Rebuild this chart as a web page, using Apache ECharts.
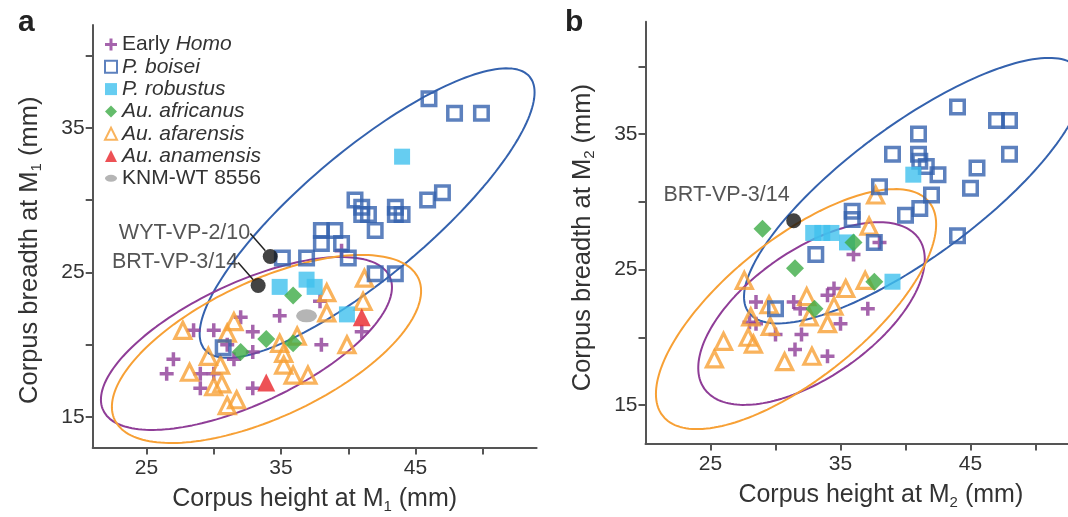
<!DOCTYPE html>
<html>
<head>
<meta charset="utf-8">
<script src="https://cdn.jsdelivr.net/npm/echarts@6/dist/echarts.min.js"></script>
<style>
  html, body { margin: 0; padding: 0; background: #ffffff; }
  #chart { width: 1068px; height: 517px; }
</style>
</head>
<body>
<div id="chart"></div>
<script>
// ---------- Panel a: corpus height vs breadth at M1 (mm), points are [height, breadth] ----------
const earlyHomoA = [[39.5,26.5],[37.9,23.0],[34.9,22.0],[32.0,21.9],[28.5,21.0],[30.0,21.0],[32.9,20.9],[31.0,20.0],[32.9,19.5],[38.0,20.0],[41.0,20.9],[31.5,19.0],[27.0,19.0],[26.5,18.0],[29.0,18.0],[30.0,18.0],[29.0,17.0],[32.9,17.0]];
const boiseiA = [[46.0,37.0],[47.9,36.0],[49.9,36.0],[47.0,30.5],[45.9,30.0],[40.5,30.0],[41.0,29.5],[41.0,29.0],[41.5,29.0],[42.0,27.9],[43.5,29.5],[43.5,29.0],[44.0,29.0],[38.0,27.9],[39.0,27.9],[38.0,27.0],[39.5,27.0],[36.9,26.0],[40.0,26.0],[35.1,26.0],[42.0,24.9],[43.5,24.9],[30.7,19.8]];
const robustusA = [[44.0,33.0],[34.9,24.0],[36.9,24.5],[37.5,24.0],[39.9,22.1]];
const africanusA = [[35.9,23.4],[33.9,20.4],[35.9,20.1],[32.0,19.5]];
const afarensisA = [[41.2,24.6],[38.4,23.6],[41.1,23.0],[38.4,22.2],[27.7,21.0],[31.5,21.6],[31.0,20.8],[34.9,20.1],[36.2,20.6],[39.9,20.0],[29.6,19.2],[30.5,18.6],[35.2,19.4],[35.2,18.6],[28.2,18.1],[35.9,17.9],[37.0,17.9],[30.0,17.1],[30.6,17.3],[31.0,15.8],[31.7,16.2]];
const anamensisA = [[41.0,21.9],[33.9,17.4]];
const knmA = [[36.9,22.0]];
const specimensA = [{ name: 'WYT-VP-2/10', value: [34.2,26.1] }, { name: 'BRT-VP-3/14', value: [33.3,24.1] }];

// ---------- Panel b: corpus height vs breadth at M2 (mm) ----------
const earlyHomoB = [[38.0,27.0],[36.0,26.1],[34.5,23.6],[34.0,23.1],[28.5,22.6],[31.4,22.6],[31.9,22.1],[37.1,22.1],[28.0,21.1],[28.5,21.0],[35.0,21.0],[30.0,20.2],[32.0,20.2],[31.5,19.1],[34.0,18.6]];
const boiseiB = [[44.0,37.0],[47.0,36.0],[48.0,36.0],[48.0,33.5],[41.0,35.0],[39.0,33.5],[41.0,33.5],[41.1,33.0],[41.6,32.6],[42.5,32.0],[45.5,32.5],[45.0,31.0],[42.0,30.5],[41.1,29.5],[40.0,29.0],[38.0,31.1],[44.0,27.5],[35.9,29.3],[35.9,28.7],[37.6,27.0],[33.1,26.1],[30.0,22.1]];
const robustusB = [[40.6,32.0],[32.9,27.7],[33.6,27.7],[34.3,27.7],[35.5,27.0],[39.0,24.1]];
const africanusB = [[29.0,28.0],[31.5,25.1],[36.0,27.0],[37.6,24.1],[33.0,22.1]];
const afarensisB = [[37.7,30.5],[37.2,28.2],[27.6,24.2],[35.4,23.6],[36.9,24.2],[32.4,23.0],[29.5,22.4],[34.5,22.3],[28.1,21.5],[29.6,20.8],[32.6,21.5],[34.0,21.0],[26.0,19.7],[27.9,20.0],[28.3,19.5],[25.3,18.4],[30.7,18.2],[32.8,18.6]];
const specimensB = [{ name: 'BRT-VP-3/14', value: [31.4,28.6] }];

// Group ellipses: centre and two conjugate semi-axis vectors (mm)
const ellipseBoiseiA = { cx: 41.4, cy: 29.1, ax: 12.08, ay: 9.43, bx: 3.01, by: -3.34 };
const ellipseHomoA = { cx: 32.43, cy: 20.09, ax: 10.65, ay: 4.62, bx: 1.90, by: -3.79 };
const ellipseAfarensisA = { cx: 33.92, cy: 19.71, ax: 11.29, ay: 4.89, bx: 2.15, by: -4.28 };
const ellipseBoiseiB = { cx: 40.62, cy: 30.82, ax: 12.69, ay: 8.98, bx: 3.01, by: -3.92 };
const ellipseHomoB = { cx: 32.77, cy: 21.75, ax: 8.25, ay: 5.54, bx: 2.80, by: -3.84 };
const ellipseAfarensisB = { cx: 31.58, cy: 22.08, ax: 10.24, ay: 7.90, bx: 3.36, by: -4.0 };

// Axis ticks and labels
const xTicksA = [25, 30, 35, 40, 45, 50];
const xTicksB = [25, 30, 35, 40, 45, 50, 55];
const xLabels = [25, 35, 45];
const yTicks = [15, 20, 25, 30, 35, 40];
const yLabels = [15, 25, 35];

const FONT = '"Liberation Sans", Arial, Helvetica, sans-serif';
const TEXT = '#333333';
const AXIS = '#555555';
const C = {
  homo: '#8f3d97', boisei: '#3462ae', robustus: '#40c0ee',
  africanus: '#3dab46', afarensis: '#f7a035', anamensis: '#e8262a',
  knm: '#a3a3a3', spec: '#141414'
};
const PLUS = 'path://M4.5,0h3v4.5h4.5v3h-4.5v4.5h-3v-4.5h-4.5v-3h4.5z';

function outline(p) {
  const pts = [];
  const n = 180;
  for (let i = 0; i <= n; i++) {
    const t = (i / n) * Math.PI * 2;
    pts.push([p.cx + p.ax * Math.cos(t) + p.bx * Math.sin(t),
              p.cy + p.ay * Math.cos(t) + p.by * Math.sin(t)]);
  }
  return pts;
}

function ellipseSeries(p, color, idx) {
  return {
    type: 'line', name: 'outline', xAxisIndex: idx, yAxisIndex: idx,
    data: outline(p), showSymbol: false, symbol: 'none', silent: true,
    lineStyle: { color: color, width: 2 }, z: 1, animation: false
  };
}

const subStyle = { fontFamily: FONT, fontSize: 15, color: TEXT, lineHeight: 15, padding: [16, 0, 0, 0], verticalAlign: 'bottom' };

function xAxis(idx, min, max, ticks, sub) {
  return {
    type: 'value', gridIndex: idx, min: min, max: max,
    name: 'Corpus height at M{s|' + sub + '} (mm)', nameLocation: 'middle', nameGap: 36,
    nameTextStyle: { fontFamily: FONT, fontSize: 25, color: TEXT, lineHeight: 30, rich: { s: subStyle } },
    splitLine: { show: false },
    axisLine: { onZero: false, lineStyle: { color: AXIS, width: 2 } },
    axisTick: { customValues: ticks, length: 7, lineStyle: { color: AXIS, width: 2 } },
    axisLabel: { customValues: xLabels, fontFamily: FONT, fontSize: 21, color: TEXT, margin: 10 }
  };
}

function yAxis(idx, min, max, sub, pad) {
  return {
    type: 'value', gridIndex: idx, min: min, max: max,
    name: 'Corpus breadth at M{s|' + sub + '} (mm)', nameLocation: 'middle', nameGap: 48,
    nameTextStyle: { fontFamily: FONT, fontSize: 25.5, color: TEXT, lineHeight: 30, padding: pad, rich: { s: subStyle } },
    splitLine: { show: false },
    axisLine: { onZero: false, lineStyle: { color: AXIS, width: 2 } },
    axisTick: { customValues: yTicks, length: 7, lineStyle: { color: AXIS, width: 2 } },
    axisLabel: { customValues: yLabels, fontFamily: FONT, fontSize: 21, color: TEXT, margin: 8 }
  };
}

function groupSeries(idx, sets) {
  const out = [];
  const add = (name, data, style) => { if (data) out.push(Object.assign({ type: 'scatter', name: name, xAxisIndex: idx, yAxisIndex: idx, data: data, z: 3, animation: false }, style)); };
  add('Early Homo', sets.homo, { symbol: PLUS, symbolSize: 14, itemStyle: { color: C.homo } });
  add('Au. afarensis', sets.afarensis, { symbol: 'triangle', symbolSize: 16, itemStyle: { color: 'rgba(0,0,0,0)', borderColor: C.afarensis, borderWidth: 3.2 } });
  add('P. boisei', sets.boisei, { symbol: 'rect', symbolSize: 13.5, itemStyle: { color: 'rgba(0,0,0,0)', borderColor: C.boisei, borderWidth: 3.5 } });
  add('P. robustus', sets.robustus, { symbol: 'rect', symbolSize: 16, itemStyle: { color: C.robustus } });
  add('Au. africanus', sets.africanus, { symbol: 'diamond', symbolSize: 18, itemStyle: { color: C.africanus } });
  add('Au. anamensis', sets.anamensis, { symbol: 'triangle', symbolSize: 18, itemStyle: { color: C.anamensis } });
  add('KNM-WT 8556', sets.knm, { symbol: 'circle', symbolSize: [21, 13], itemStyle: { color: C.knm } });
  return out;
}

const labelText = { fontFamily: FONT, fontSize: 21.5, color: '#2b2b2b' };

const series = [
  ellipseSeries(ellipseBoiseiA, C.boisei, 0),
  ellipseSeries(ellipseHomoA, C.homo, 0),
  ellipseSeries(ellipseAfarensisA, C.afarensis, 0),
  ellipseSeries(ellipseBoiseiB, C.boisei, 1),
  ellipseSeries(ellipseHomoB, C.homo, 1),
  ellipseSeries(ellipseAfarensisB, C.afarensis, 1),
  ...groupSeries(0, { homo: earlyHomoA, boisei: boiseiA, robustus: robustusA, africanus: africanusA, afarensis: afarensisA, anamensis: anamensisA, knm: knmA }),
  ...groupSeries(1, { homo: earlyHomoB, boisei: boiseiB, robustus: robustusB, africanus: africanusB, afarensis: afarensisB }),
  {
    type: 'scatter', name: 'specimen', xAxisIndex: 0, yAxisIndex: 0, data: specimensA, z: 4, animation: false,
    symbol: 'circle', symbolSize: 15, itemStyle: { color: C.spec },
    label: Object.assign({ show: true, position: 'left', distance: 5, formatter: '{b}' }, labelText),
    labelLayout: { dx: -7.5, dy: -23 },
    labelLine: { show: true, lineStyle: { color: '#222', width: 1.5 } }
  },
  {
    type: 'scatter', name: 'specimen', xAxisIndex: 1, yAxisIndex: 1, data: specimensB, z: 4, animation: false,
    symbol: 'circle', symbolSize: 15, itemStyle: { color: C.spec },
    label: Object.assign({ show: true, position: 'left', distance: 5, offset: [8.5, -26], formatter: '{b}' }, labelText)
  }
];

const legendNames = {
  'Early Homo': 'Early {i|Homo}',
  'P. boisei': '{i|P. boisei}',
  'P. robustus': '{i|P. robustus}',
  'Au. africanus': '{i|Au. africanus}',
  'Au. afarensis': '{i|Au. afarensis}',
  'Au. anamensis': '{i|Au. anamensis}',
  'KNM-WT 8556': 'KNM-WT 8556'
};

const option = {
  backgroundColor: '#ffffff',
  animation: false,
  title: [
    { text: 'a', left: 13, top: 3, textStyle: { fontFamily: FONT, fontSize: 30, fontWeight: 'bold', color: '#222' } },
    { text: 'b', left: 560, top: 3, textStyle: { fontFamily: FONT, fontSize: 30, fontWeight: 'bold', color: '#222' } }
  ],
  grid: [
    { left: 92.7, top: 25, width: 443.9, height: 422.5, outerBoundsMode: 'none', containLabel: false },
    { left: 645.5, top: 21.7, width: 470.6, height: 421.8, outerBoundsMode: 'none', containLabel: false }
  ],
  xAxis: [xAxis(0, 21, 54, xTicksA, '1'), xAxis(1, 20, 56.2, xTicksB, '2')],
  yAxis: [yAxis(0, 12.9, 42.1, '1', [0, 28, 0, 0]), yAxis(1, 12.16, 43.29, '2', [0, 10, 0, 0])],
  legend: {
    orient: 'vertical', left: 104, top: 34, padding: 0, itemWidth: 12, itemHeight: 12, itemGap: 1.3,
    selectedMode: false,
    textStyle: { fontFamily: FONT, fontSize: 21, color: TEXT, lineHeight: 21,
      rich: { i: { fontFamily: FONT, fontSize: 21, fontStyle: 'italic', color: TEXT } } },
    formatter: name => legendNames[name],
    data: [
      { name: 'Early Homo', icon: PLUS, itemStyle: { color: C.homo } },
      { name: 'P. boisei', icon: 'rect', itemStyle: { color: 'rgba(0,0,0,0)', borderColor: C.boisei, borderWidth: 2 } },
      { name: 'P. robustus', icon: 'rect', itemStyle: { color: C.robustus } },
      { name: 'Au. africanus', icon: 'diamond', itemStyle: { color: C.africanus } },
      { name: 'Au. afarensis', icon: 'triangle', itemStyle: { color: 'rgba(0,0,0,0)', borderColor: C.afarensis, borderWidth: 2 } },
      { name: 'Au. anamensis', icon: 'triangle', itemStyle: { color: C.anamensis } },
      { name: 'KNM-WT 8556', icon: 'path://M0,4a7,4 0 1,0 14,0a7,4 0 1,0 -14,0z', itemStyle: { color: C.knm } }
    ]
  },
  series: series
};

const chart = echarts.init(document.getElementById('chart'), null, { renderer: 'canvas' });
chart.setOption(option);
</script>
</body>
</html>
